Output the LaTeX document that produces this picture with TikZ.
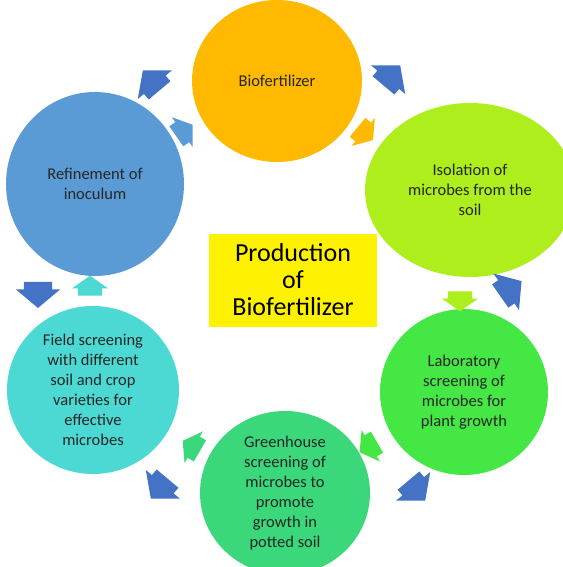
\documentclass[tikz,border=0pt]{standalone}
\usepackage{fontspec}
\setmainfont{Carlito}
\usetikzlibrary{shapes,arrows,positioning}

\definecolor{biocol}{HTML}{FFB900}
\definecolor{isocol}{HTML}{AEEE1C}
\definecolor{labcol}{HTML}{44E744}
\definecolor{greencol}{HTML}{3AD87A}
\definecolor{fieldcol}{HTML}{4DD9D3}
\definecolor{refcol}{HTML}{5B9BD5}
\definecolor{darkblue}{HTML}{4472C4}

\begin{document}
\begin{tikzpicture}[x=1pt, y=-1pt,
stage/.style={ellipse, inner sep=0pt, align=center, text=black!85,
  font=\fontsize{16.5}{20}\selectfont},
fwdarrow/.style={single arrow, single arrow tip angle=110,
  single arrow head extend=6pt, inner xsep=2pt, inner ysep=12pt,
  minimum height=20pt},
backarrow/.style={single arrow, single arrow tip angle=100, fill=darkblue,
  single arrow head extend=8pt, inner xsep=2pt, inner ysep=14pt,
  minimum height=26pt}]

\useasboundingbox (0,0) rectangle (562,567);

% stages of the cycle
\node [stage, fill=biocol, minimum width=170pt, minimum height=162pt] (bio) at (277,81) {Biofertilizer};
\node [stage, fill=isocol, minimum width=210pt, minimum height=174pt] (iso) at (470,190) {Isolation of\\microbes from the\\soil};
\node [stage, fill=labcol, minimum width=168pt, minimum height=166pt] (lab) at (464,392) {Laboratory\\screening of\\microbes for\\plant growth};
\node [stage, fill=greencol, minimum width=170pt, minimum height=164pt] (green) at (285,493) {Greenhouse\\screening of\\microbes to\\promote\\growth in\\potted soil};
\node [stage, fill=fieldcol, minimum width=172pt, minimum height=168pt] (field) at (93,390) {Field screening\\with different\\soil and crop\\varieties for\\effective\\microbes};
\node [stage, fill=refcol, minimum width=178pt, minimum height=184pt] (refine) at (95,184) {Refinement of\\inoculum};

% title box
\node [fill=yellow, minimum width=168pt, minimum height=93pt, align=center,
  font=\fontsize{26}{27}\selectfont] (prod) at (293,280) {Production\\of\\Biofertilizer};

% arrows between the stages
\node [fwdarrow, fill=refcol, rotate=35] (a1) at (181,133) {};
\node [backarrow, rotate=130] (b1) at (155,85) {};
\node [fwdarrow, fill=biocol, rotate=-40] (a2) at (362,131) {};
\node [backarrow, rotate=50] (b2) at (388,80) {};
\node [fwdarrow, fill=isocol, rotate=-90] (a3) at (460,297) {};
\node [backarrow, rotate=35] (b3) at (506,292) {};
\node [fwdarrow, fill=labcol, rotate=210] (a4) at (372,445) {};
\node [backarrow, rotate=-50] (b4) at (413,486) {};
\node [fwdarrow, fill=greencol, rotate=150] (a5) at (195,448) {};
\node [backarrow, rotate=230] (b5) at (163,484) {};
\node [fwdarrow, fill=fieldcol, rotate=90] (a6) at (90,290) {};
\node [backarrow, rotate=-90] (b6) at (38,289) {};

\end{tikzpicture}
\end{document}
